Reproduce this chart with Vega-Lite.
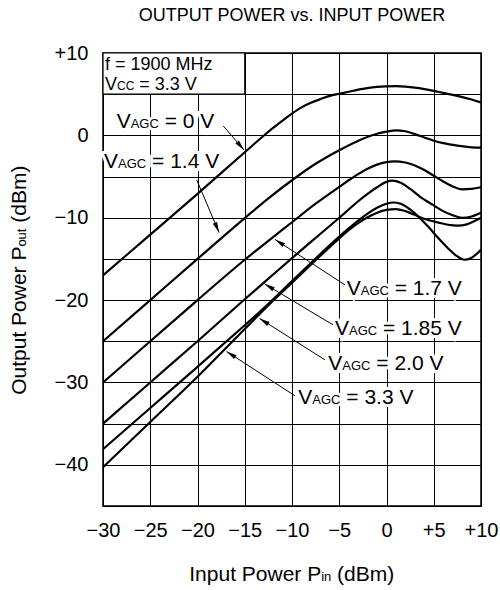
{
  "$schema": "https://vega.github.io/schema/vega-lite/v6.json",
  "width": 378,
  "height": 453,
  "autosize": {"type": "none"},
  "padding": {"left": 103, "top": 53, "right": 19, "bottom": 84},
  "title": {"text": "OUTPUT POWER vs. INPUT POWER", "fontSize": 18, "fontWeight": "normal", "font": "Liberation Sans", "color": "#000", "frame": "group", "anchor": "middle", "offset": 18},
  "config": {
    "view": {"stroke": "#000", "strokeWidth": 1.5},
    "font": "Liberation Sans",
    "axis": {"grid": true, "gridColor": "#000", "gridOpacity": 1, "gridWidth": 1, "domain": false, "ticks": false, "tickSize": 0, "labelFontSize": 20, "labelColor": "#000", "labelFont": "Liberation Sans", "title": null}
  },
  "datasets": {
    "curves": [
      {"c": "0 V", "x": -30, "y": -17}, {"c": "0 V", "x": -25, "y": -12.05}, {"c": "0 V", "x": -20, "y": -7.1}, {"c": "0 V", "x": -15, "y": -2.05}, {"c": "0 V", "x": -13, "y": -0.05}, {"c": "0 V", "x": -12, "y": 0.9}, {"c": "0 V", "x": -11, "y": 1.8}, {"c": "0 V", "x": -10, "y": 2.65}, {"c": "0 V", "x": -9, "y": 3.4}, {"c": "0 V", "x": -8, "y": 3.95}, {"c": "0 V", "x": -7, "y": 4.4}, {"c": "0 V", "x": -6, "y": 4.8}, {"c": "0 V", "x": -5, "y": 5.05}, {"c": "0 V", "x": -4, "y": 5.3}, {"c": "0 V", "x": -2.5, "y": 5.65}, {"c": "0 V", "x": -1, "y": 5.88}, {"c": "0 V", "x": 0, "y": 5.95}, {"c": "0 V", "x": 1, "y": 5.98}, {"c": "0 V", "x": 2, "y": 5.92}, {"c": "0 V", "x": 3, "y": 5.8}, {"c": "0 V", "x": 4, "y": 5.62}, {"c": "0 V", "x": 5, "y": 5.4}, {"c": "0 V", "x": 6, "y": 5.15}, {"c": "0 V", "x": 7.5, "y": 4.8}, {"c": "0 V", "x": 9, "y": 4.35}, {"c": "0 V", "x": 10, "y": 4.0},
      {"c": "1.4 V", "x": -30, "y": -25}, {"c": "1.4 V", "x": -25, "y": -20}, {"c": "1.4 V", "x": -20, "y": -15}, {"c": "1.4 V", "x": -15, "y": -10.05}, {"c": "1.4 V", "x": -12.5, "y": -7.65}, {"c": "1.4 V", "x": -10, "y": -5.45}, {"c": "1.4 V", "x": -7.5, "y": -3.45}, {"c": "1.4 V", "x": -5, "y": -1.8}, {"c": "1.4 V", "x": -2.5, "y": -0.4}, {"c": "1.4 V", "x": -1, "y": 0.2}, {"c": "1.4 V", "x": 0, "y": 0.45}, {"c": "1.4 V", "x": 1, "y": 0.6}, {"c": "1.4 V", "x": 2, "y": 0.5}, {"c": "1.4 V", "x": 3, "y": 0.15}, {"c": "1.4 V", "x": 4, "y": -0.25}, {"c": "1.4 V", "x": 5, "y": -0.65}, {"c": "1.4 V", "x": 6, "y": -0.95}, {"c": "1.4 V", "x": 7.5, "y": -1.25}, {"c": "1.4 V", "x": 9, "y": -1.45}, {"c": "1.4 V", "x": 10, "y": -1.5},
      {"c": "1.7 V", "x": -30, "y": -30}, {"c": "1.7 V", "x": -25, "y": -25}, {"c": "1.7 V", "x": -20, "y": -20}, {"c": "1.7 V", "x": -15, "y": -15.1}, {"c": "1.7 V", "x": -12.5, "y": -12.8}, {"c": "1.7 V", "x": -10, "y": -10.55}, {"c": "1.7 V", "x": -7.5, "y": -8.3}, {"c": "1.7 V", "x": -5, "y": -6.25}, {"c": "1.7 V", "x": -4, "y": -5.45}, {"c": "1.7 V", "x": -3, "y": -4.7}, {"c": "1.7 V", "x": -2, "y": -4.05}, {"c": "1.7 V", "x": -1, "y": -3.55}, {"c": "1.7 V", "x": 0, "y": -3.25}, {"c": "1.7 V", "x": 0.8, "y": -3.15}, {"c": "1.7 V", "x": 2, "y": -3.3}, {"c": "1.7 V", "x": 3, "y": -3.65}, {"c": "1.7 V", "x": 4, "y": -4.2}, {"c": "1.7 V", "x": 5, "y": -4.9}, {"c": "1.7 V", "x": 6, "y": -5.6}, {"c": "1.7 V", "x": 7, "y": -6.2}, {"c": "1.7 V", "x": 8, "y": -6.55}, {"c": "1.7 V", "x": 9, "y": -6.5}, {"c": "1.7 V", "x": 10, "y": -6.3},
      {"c": "1.85 V", "x": -30, "y": -35}, {"c": "1.85 V", "x": -25, "y": -30}, {"c": "1.85 V", "x": -20, "y": -25}, {"c": "1.85 V", "x": -15, "y": -19.9}, {"c": "1.85 V", "x": -12.5, "y": -17.4}, {"c": "1.85 V", "x": -10, "y": -14.9}, {"c": "1.85 V", "x": -7.5, "y": -12.45}, {"c": "1.85 V", "x": -5, "y": -10.0}, {"c": "1.85 V", "x": -4, "y": -9.0}, {"c": "1.85 V", "x": -3, "y": -8.0}, {"c": "1.85 V", "x": -2, "y": -7.1}, {"c": "1.85 V", "x": -1, "y": -6.3}, {"c": "1.85 V", "x": 0, "y": -5.65}, {"c": "1.85 V", "x": 0.6, "y": -5.5}, {"c": "1.85 V", "x": 1.5, "y": -5.75}, {"c": "1.85 V", "x": 2.5, "y": -6.5}, {"c": "1.85 V", "x": 3.5, "y": -7.4}, {"c": "1.85 V", "x": 5, "y": -8.5}, {"c": "1.85 V", "x": 6, "y": -9.2}, {"c": "1.85 V", "x": 7, "y": -9.7}, {"c": "1.85 V", "x": 8, "y": -10.0}, {"c": "1.85 V", "x": 9, "y": -9.85}, {"c": "1.85 V", "x": 10, "y": -9.4},
      {"c": "2.0 V", "x": -30, "y": -38.1}, {"c": "2.0 V", "x": -25, "y": -33.1}, {"c": "2.0 V", "x": -20, "y": -28.1}, {"c": "2.0 V", "x": -15, "y": -23.05}, {"c": "2.0 V", "x": -13, "y": -21.0}, {"c": "2.0 V", "x": -10, "y": -17.7}, {"c": "2.0 V", "x": -7.5, "y": -14.95}, {"c": "2.0 V", "x": -5, "y": -12.3}, {"c": "2.0 V", "x": -4, "y": -11.3}, {"c": "2.0 V", "x": -3, "y": -10.35}, {"c": "2.0 V", "x": -2, "y": -9.5}, {"c": "2.0 V", "x": -1, "y": -8.8}, {"c": "2.0 V", "x": 0, "y": -8.3}, {"c": "2.0 V", "x": 0.7, "y": -8.15}, {"c": "2.0 V", "x": 1.5, "y": -8.3}, {"c": "2.0 V", "x": 2.5, "y": -9.0}, {"c": "2.0 V", "x": 3.5, "y": -10.0}, {"c": "2.0 V", "x": 4.5, "y": -11.2}, {"c": "2.0 V", "x": 5.5, "y": -12.5}, {"c": "2.0 V", "x": 6.5, "y": -13.7}, {"c": "2.0 V", "x": 7.5, "y": -14.7}, {"c": "2.0 V", "x": 8.2, "y": -15.1}, {"c": "2.0 V", "x": 9, "y": -14.85}, {"c": "2.0 V", "x": 10, "y": -13.9},
      {"c": "3.3 V", "x": -30, "y": -40.3}, {"c": "3.3 V", "x": -25, "y": -34.8}, {"c": "3.3 V", "x": -20, "y": -29.3}, {"c": "3.3 V", "x": -15, "y": -23.5}, {"c": "3.3 V", "x": -13, "y": -21.2}, {"c": "3.3 V", "x": -10, "y": -17.9}, {"c": "3.3 V", "x": -7.5, "y": -15.15}, {"c": "3.3 V", "x": -5, "y": -12.5}, {"c": "3.3 V", "x": -4, "y": -11.5}, {"c": "3.3 V", "x": -3, "y": -10.65}, {"c": "3.3 V", "x": -2, "y": -9.95}, {"c": "3.3 V", "x": -1, "y": -9.4}, {"c": "3.3 V", "x": 0, "y": -9.05}, {"c": "3.3 V", "x": 1, "y": -8.95}, {"c": "3.3 V", "x": 2, "y": -9.2}, {"c": "3.3 V", "x": 3, "y": -9.65}, {"c": "3.3 V", "x": 3.5, "y": -9.9}, {"c": "3.3 V", "x": 4.5, "y": -10.3}, {"c": "3.3 V", "x": 5.5, "y": -10.6}, {"c": "3.3 V", "x": 6.5, "y": -10.85}, {"c": "3.3 V", "x": 7.5, "y": -10.95}, {"c": "3.3 V", "x": 8.5, "y": -10.8}, {"c": "3.3 V", "x": 9.3, "y": -10.4}, {"c": "3.3 V", "x": 10, "y": -10.0}
    ],
    "labels": [
      {"rest": "= 0 V", "x": -28.55, "y": 0.86},
      {"rest": "= 1.4 V", "x": -29.89, "y": -3.99},
      {"rest": "= 1.7 V", "x": -4.21, "y": -19.37},
      {"rest": "= 1.85 V", "x": -5.45, "y": -24.22},
      {"rest": "= 2.0 V", "x": -6.16, "y": -28.47},
      {"rest": "= 3.3 V", "x": -9.33, "y": -32.6}
    ],
    "arrows": [
      {"xs": -17.27, "ys": 1.14, "x": -15.08, "y": -1.77},
      {"xs": -20.08, "ys": -5.41, "x": -17.72, "y": -11.8},
      {"xs": -4.39, "ys": -18.16, "x": -11.8, "y": -12.63},
      {"xs": -5.66, "ys": -23.0, "x": -12.91, "y": -18.03},
      {"xs": -6.51, "ys": -27.26, "x": -13.44, "y": -22.22},
      {"xs": -9.68, "ys": -31.63, "x": -16.93, "y": -26.23}
    ]
  },
  "encoding": {
    "x": {"field": "x", "type": "quantitative", "scale": {"domain": [-30, 10], "nice": false, "zero": false}, "axis": {"values": [-30, -25, -20, -15, -10, -5, 0, 5, 10], "labelExpr": "datum.value > 0 ? '+' + datum.label : datum.label", "labelPadding": 14, "labelFlush": false, "labelOverlap": false}},
    "y": {"field": "y", "type": "quantitative", "scale": {"domain": [-45, 10], "nice": false, "zero": false}, "axis": {"values": [-45, -40, -35, -30, -25, -20, -15, -10, -5, 0, 5, 10], "labelExpr": "datum.value % 10 == 0 && datum.value > -45 ? (datum.value > 0 ? '+' + datum.label : datum.label) : ''", "labelPadding": 15, "labelFlush": false, "labelOverlap": false}}
  },
  "layer": [
    {"data": {"name": "curves"}, "mark": {"type": "line", "color": "#000", "strokeWidth": 2.2, "interpolate": "monotone"}, "encoding": {"detail": {"field": "c"}}},
    {"data": {"values": [{"x": -30, "x2": -15, "y": 5, "y2": 10}]}, "mark": {"type": "rect", "fill": "#fff", "stroke": "#000", "strokeWidth": 1.2}, "encoding": {"x2": {"field": "x2"}, "y2": {"field": "y2"}}},
    {"data": {"values": [{"x": -29.79, "y": 7.95}]}, "mark": {"type": "text", "text": "f = 1900 MHz", "align": "left", "baseline": "alphabetic", "fontSize": 18, "color": "#000"}},
    {"data": {"values": [{"x": -29.79, "y": 5.5}]}, "mark": {"type": "text", "text": "V", "align": "left", "baseline": "alphabetic", "fontSize": 18, "color": "#000"}},
    {"data": {"values": [{"x": -29.79, "y": 5.5}]}, "mark": {"type": "text", "text": "CC", "align": "left", "baseline": "alphabetic", "fontSize": 12, "dx": 12, "color": "#000"}},
    {"data": {"values": [{"x": -29.79, "y": 5.5}]}, "mark": {"type": "text", "text": "= 3.3 V", "align": "left", "baseline": "alphabetic", "fontSize": 18, "dx": 34.3, "color": "#000"}},
    {"data": {"name": "labels"}, "mark": {"type": "text", "text": "V", "align": "left", "baseline": "alphabetic", "fontSize": 21, "fill": "#fff", "stroke": "#fff", "strokeWidth": 6}},
    {"data": {"name": "labels"}, "mark": {"type": "text", "text": "AGC", "align": "left", "baseline": "alphabetic", "fontSize": 13, "dx": 14, "fill": "#fff", "stroke": "#fff", "strokeWidth": 6}},
    {"data": {"name": "labels"}, "mark": {"type": "text", "align": "left", "baseline": "alphabetic", "fontSize": 21, "dx": 48, "fill": "#fff", "stroke": "#fff", "strokeWidth": 6}, "encoding": {"text": {"field": "rest"}}},
    {"data": {"name": "labels"}, "mark": {"type": "text", "text": "V", "align": "left", "baseline": "alphabetic", "fontSize": 21, "color": "#000"}},
    {"data": {"name": "labels"}, "mark": {"type": "text", "text": "AGC", "align": "left", "baseline": "alphabetic", "fontSize": 13, "dx": 14, "color": "#000"}},
    {"data": {"name": "labels"}, "mark": {"type": "text", "align": "left", "baseline": "alphabetic", "fontSize": 21, "dx": 48, "color": "#000"}, "encoding": {"text": {"field": "rest"}}},
    {"data": {"name": "arrows"}, "mark": {"type": "rule", "color": "#000", "strokeWidth": 1}, "encoding": {"x2": {"field": "xs"}, "y2": {"field": "ys"}}},
    {"data": {"name": "arrows"}, "transform": [{"calculate": "atan2((datum.x - datum.xs) * 9.45, (datum.y - datum.ys) * 8.24) * 180 / PI", "as": "angle"}], "mark": {"type": "point", "shape": "M0,0L-0.45,2L0.45,2Z", "size": 110, "filled": true, "color": "#000", "opacity": 1}, "encoding": {"angle": {"field": "angle", "type": "quantitative", "scale": null}}},
    {"data": {"values": [{"x": -20.87, "y": -54.08}]}, "mark": {"type": "text", "text": "Input Power P", "align": "left", "baseline": "alphabetic", "fontSize": 21, "color": "#000"}},
    {"data": {"values": [{"x": -20.87, "y": -54.08}]}, "mark": {"type": "text", "text": "in", "align": "left", "baseline": "alphabetic", "fontSize": 13, "dx": 131.9, "color": "#000"}},
    {"data": {"values": [{"x": -20.87, "y": -54.08}]}, "mark": {"type": "text", "text": "(dBm)", "align": "left", "baseline": "alphabetic", "fontSize": 21, "dx": 147.8, "color": "#000"}},
    {"data": {"values": [{"x": -38.15, "y": -31.5}]}, "mark": {"type": "text", "text": "Output Power P", "align": "left", "baseline": "alphabetic", "fontSize": 21, "angle": 270, "color": "#000"}},
    {"data": {"values": [{"x": -38.15, "y": -31.5}]}, "mark": {"type": "text", "text": "out", "align": "left", "baseline": "alphabetic", "fontSize": 13, "angle": 270, "dx": 148.2, "color": "#000"}},
    {"data": {"values": [{"x": -38.15, "y": -31.5}]}, "mark": {"type": "text", "text": "(dBm)", "align": "left", "baseline": "alphabetic", "fontSize": 21, "angle": 270, "dx": 172.1, "color": "#000"}}
  ]
}
